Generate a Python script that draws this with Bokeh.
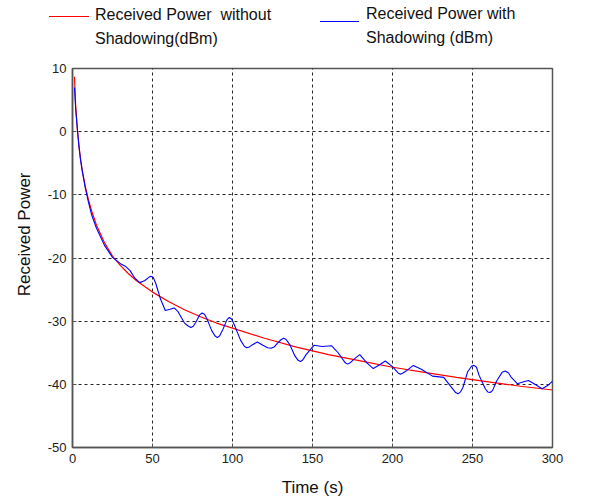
from bokeh.plotting import figure
from bokeh.models import Range1d, FixedTicker, Div
from bokeh.layouts import column
from bokeh.embed import file_html
from bokeh.resources import INLINE

# ---- data ----
t_red = [1.25, 2, 3, 4, 5, 6, 8, 10, 12, 15, 20, 25, 30, 35, 40, 50, 60, 70, 80, 90,
         100, 120, 140, 160, 180, 200, 220, 240, 260, 280, 300]
p_red = [8.7, 4.0, 0.5, -2.2, -4.3, -6.0, -8.7, -10.8, -12.6, -14.8, -17.6, -19.7, -21.2,
         -22.5, -23.6, -25.4, -26.9, -28.2, -29.3, -30.3, -31.1, -32.7, -34.1, -35.3,
         -36.3, -37.3, -38.1, -38.9, -39.6, -40.3, -40.9]

t_blue = [1.25, 2, 3, 4, 5, 6, 8, 10, 12, 15, 20, 25, 30, 33, 36, 39, 42, 45, 47.5, 49,
          50.5, 52, 55, 58, 61, 63.5, 66, 70, 72.5, 74, 75.5, 77, 79.5, 81, 82.5, 84, 87,
          89, 90.5, 92, 94, 96.5, 98, 99.5, 101, 105, 107.5, 109, 110.5, 112, 115.5, 119,
          122, 124, 126, 128, 130.5, 132, 133.5, 136, 139, 141, 142.5, 144, 146, 151, 156,
          162, 166, 170.5, 172, 173.5, 176, 179.5, 184, 188, 192, 195.5, 200, 203.5, 205,
          206.5, 209, 213, 218, 225, 232, 236, 239.5, 241, 242.5, 244, 247, 249.5, 251,
          252.5, 254, 258, 259.5, 261, 262.5, 265, 268.5, 270.5, 272.5, 274, 278, 282,
          285, 289, 293.5, 297, 300]
p_blue = [7.0, 3.5, 0.5, -2.2, -4.4, -6.1, -8.9, -11.2, -13.2, -15.3, -18.0, -19.9, -20.9,
          -21.3, -22.0, -23.2, -23.9, -23.6, -23.1, -22.9, -23.1, -24.0, -26.5, -28.3,
          -28.1, -27.9, -28.5, -30.3, -30.8, -31.0, -30.8, -30.2, -29.0, -28.7, -28.9,
          -29.6, -31.5, -32.3, -32.6, -32.3, -31.3, -29.8, -29.4, -29.7, -30.5, -33.0,
          -34.0, -34.2, -34.1, -33.8, -33.3, -33.8, -34.2, -34.3, -34.1, -33.5, -32.9,
          -32.7, -32.9, -33.8, -35.5, -36.2, -36.4, -36.1, -35.3, -33.8, -34.0, -33.9,
          -35.0, -36.6, -36.8, -36.6, -36.0, -35.3, -36.6, -37.5, -36.9, -36.3, -37.2,
          -38.2, -38.4, -38.2, -37.8, -37.0, -37.6, -38.7, -38.9, -40.2, -41.3, -41.5,
          -41.2, -40.5, -38.0, -37.1, -37.0, -37.3, -38.5, -40.7, -41.2, -41.3, -41.0,
          -39.5, -38.1, -37.9, -38.2, -38.8, -39.9, -39.6, -39.4, -40.0, -40.7, -40.2,
          -39.5]

x_ticks = [0, 50, 100, 150, 200, 250, 300]
y_ticks = [-50, -40, -30, -20, -10, 0, 10]
y_tick_labels = ["-50", "-40", "-30", "-20", "-10", "0", "10"]
legend_lines = [["Received Power&nbsp;&nbsp;without", "Shadowing(dBm)"],
                ["Received Power with", "Shadowing (dBm)"]]
legend_colors = ["#ff0000", "#0000ff"]

FONT = "Liberation Sans"
W = 604
LH = 52                            # height of legend strip
H = 502 - LH
FL, FR, FT, FB = 72, 552, 68, 447  # target frame edges in page px

# ---- legend strip (HTML, absolutely positioned in page px) ----
sample_pos = [(49, 16, 40), (320, 21, 39)]   # left, y, length of sample line
text_pos = [(95, 3), (366, 2)]                # left, top of text block
parts = []
for (lx, ly, ll), (tx, ty), col, lines in zip(sample_pos, text_pos, legend_colors, legend_lines):
    parts.append(
        f'<div style="position:absolute;left:{lx}px;top:{ly}px;width:{ll}px;'
        f'height:1px;background:{col};"></div>')
    parts.append(
        f'<div style="position:absolute;left:{tx}px;top:{ty}px;white-space:nowrap;'
        f'font-family:\'{FONT}\';font-size:16px;line-height:24px;color:#111111;">'
        + "<br>".join(lines) + '</div>')
html = (f'<div style="position:relative;width:{W}px;height:{LH}px;margin:0;padding:0;">'
        + "".join(parts) + '</div>')
leg = Div(text=html, width=W, height=LH, margin=0)

# ---- main chart ----
p = figure(width=W, height=H, output_backend="svg", toolbar_location=None,
           x_range=Range1d(0, 300), y_range=Range1d(-50, 10),
           min_border_left=FL, min_border_right=W - FR,
           min_border_top=FT - LH, min_border_bottom=H - (FB - LH))

p.line(t_red, p_red, line_color="#ff0000", line_width=1.2)
p.line(t_blue, p_blue, line_color="#0000ff", line_width=1.1)

p.xaxis.ticker = FixedTicker(ticks=x_ticks)
p.yaxis.ticker = FixedTicker(ticks=y_ticks)
p.yaxis.major_label_overrides = {t: s for t, s in zip(y_ticks, y_tick_labels)}
for ax in (p.xaxis[0], p.yaxis[0]):
    ax.major_label_text_font = FONT
    ax.major_label_text_font_size = "13px"
    ax.major_label_text_color = "#222222"
    ax.axis_label_text_font = FONT
    ax.axis_label_text_font_size = "17px"
    ax.axis_label_text_font_style = "normal"
    ax.axis_label_text_color = "#111111"
    ax.major_tick_in = 4
    ax.major_tick_out = 0
    ax.minor_tick_in = 0
    ax.minor_tick_out = 0
    ax.axis_line_color = "#555555"
    ax.axis_line_width = 1.5
    ax.major_tick_line_color = "#555555"
    ax.major_label_standoff = 6
p.xaxis.axis_label = "Time (s)"
# leading no-break spaces move the vertical label up, as in the reference
p.yaxis.axis_label = "\u00a0" * 10 + "Received Power"
p.xaxis.axis_label_standoff = 12
p.yaxis.axis_label_standoff = 11

p.grid.grid_line_color = "#000000"
p.grid.grid_line_dash = "3 3"
p.grid.grid_line_width = 1
p.grid.grid_line_alpha = 0.85

p.outline_line_color = "#555555"
p.outline_line_width = 1.5
p.background_fill_color = "white"
p.border_fill_color = "white"

layout = column(leg, p, spacing=0)
open("out.html", "w").write(file_html(layout, INLINE))
